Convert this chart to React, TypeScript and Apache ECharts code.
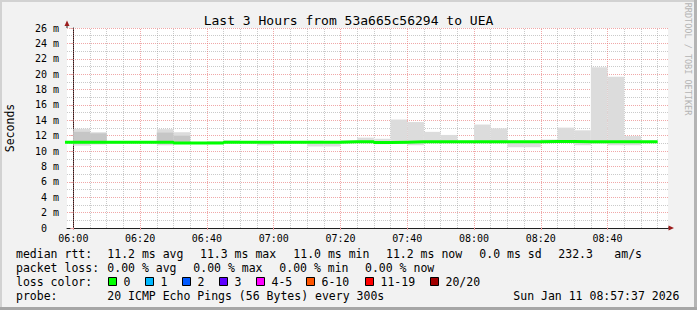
import React, { useEffect, useRef } from "react";
import * as echarts from "echarts";

// ---- data ----
const binTimes = [
  "05:55", "06:00", "06:05", "06:10", "06:15", "06:20", "06:25", "06:30", "06:35",
  "06:40", "06:45", "06:50", "06:55", "07:00", "07:05", "07:10", "07:15", "07:20",
  "07:25", "07:30", "07:35", "07:40", "07:45", "07:50", "07:55", "08:00", "08:05",
  "08:10", "08:15", "08:20", "08:25", "08:30", "08:35", "08:40", "08:45", "08:50",
];
// smoke (min..max of the 20 pings), ms
const smokeMin = [
  11.1, 10.7, 10.85, 10.95, 11.05, 11.05, 10.75, 11.0, 10.95,
  11.0, 11.05, 11.05, 10.75, 11.05, 11.05, 10.6, 10.6, 11.05,
  11.05, 10.9, 10.95, 10.76, 11.1, 11.1, 11.1, 11.1, 11.05,
  10.5, 10.5, 11.1, 11.05, 10.76, 10.98, 10.76, 10.76, 11.15,
];
const smokeMax = [
  11.3, 12.9, 12.45, 11.3, 11.25, 11.25, 12.85, 12.45, 11.1,
  11.3, 11.4, 11.3, 11.2, 11.25, 11.25, 11.35, 11.25, 11.4,
  11.75, 11.6, 14.1, 13.77, 12.5, 12.1, 11.35, 13.45, 12.95,
  11.3, 11.25, 11.5, 13.05, 12.7, 20.9, 19.65, 11.95, 11.25,
];
// denser inner smoke
const innerLo = [
  null, 11.0, 11.0, null, null, null, 11.0, 11.0, null,
  null, null, null, null, null, null, null, null, null,
  null, null, 10.93, null, null, null, null, null, null,
  null, null, null, 11.1, null, null, null, null, null,
];
const innerHi = [
  null, 12.5, 12.3, null, null, null, 12.4, 12.0, null,
  null, null, null, null, null, null, null, null, null,
  null, null, 11.0, null, null, null, null, null, null,
  null, null, null, 11.4, null, null, null, null, null,
];
const medianRtt = [
  11.15, 11.15, 11.15, 11.15, 11.15, 11.15, 11.15, 11.05, 11.05,
  11.05, 11.15, 11.15, 11.15, 11.15, 11.15, 11.15, 11.15, 11.2,
  11.2, 11.1, 11.15, 11.2, 11.2, 11.2, 11.2, 11.2, 11.2,
  11.2, 11.2, 11.25, 11.25, 11.2, 11.2, 11.2, 11.2, 11.2,
];
const xTickLabels = ["06:00", "06:20", "06:40", "07:00", "07:20", "07:40", "08:00", "08:20", "08:40"];
const xGridTimes = [
  "06:00", "06:05", "06:10", "06:15", "06:20", "06:25", "06:30", "06:35", "06:40", "06:45",
  "06:50", "06:55", "07:00", "07:05", "07:10", "07:15", "07:20", "07:25", "07:30", "07:35",
  "07:40", "07:45", "07:50", "07:55", "08:00", "08:05", "08:10", "08:15", "08:20", "08:25",
  "08:30", "08:35", "08:40", "08:45", "08:50", "08:55",
];

const titleText = "Last 3 Hours from 53a665c56294 to UEA";
const rttStats = ["11.2 ms avg", "11.3 ms max", "11.0 ms min", "11.2 ms now", "0.0 ms sd", "232.3", "am/s"];
const lossStats = ["0.00 % avg", "0.00 % max", "0.00 % min", "0.00 % now"];
const lossLabels = ["0", "1", "2", "3", "4-5", "6-10", "11-19", "20/20"];
const lossColors = ["#00ff00", "#00b8ff", "#0059ff", "#5e00ff", "#ff00ff", "#ff5500", "#ff0000", "#a10000"];
const probeText = "20 ICMP Echo Pings (56 Bytes) every 300s";
const dateText = "Sun Jan 11 08:57:37 2026";
const binMinutes = 5;

// ---- layout ----
const FONT = "DejaVu Sans Mono";
const rttX = [107.3, 200, 293.3, 386, 479.3, 558.3, 614.3];
const lossX = [107.3, 193.3, 279.3, 365];
const boxX = [108.5, 145.5, 182.5, 219.5, 256.5, 306.5, 365.5, 430.5];
const lineY = [254, 268, 282, 296];

const toMin = (t: string) => {
  const [h, m] = t.split(":").map(Number);
  return (h - 6) * 60 + m;
};
const fmtMin = (v: number) => {
  const tot = Math.round(v) + 360;
  const h = Math.floor(tot / 60);
  const m = tot % 60;
  return String(h).padStart(2, "0") + ":" + String(m).padStart(2, "0");
};

export default function App() {
  const ref = useRef<HTMLDivElement>(null);
  useEffect(() => {
    if (!ref.current) return;
    const chart = echarts.init(ref.current, null, { renderer: "svg" });

    const starts = binTimes.map(toMin);
    const outerData = starts.map((s, i) => [s, s + binMinutes, smokeMin[i], smokeMax[i]]);
    const innerData = starts
      .map((s, i) => (innerLo[i] == null ? null : [s, s + binMinutes, innerLo[i], innerHi[i]]))
      .filter((d) => d != null);
    const medData = starts.map((s, i) => [s, medianRtt[i]]);
    medData.push([starts[starts.length - 1] + binMinutes, medianRtt[medianRtt.length - 1]]);

    const rectItem = (fill: string) => (params: any, api: any) => {
      const s = api.value(0), e = api.value(1), lo = api.value(2), hi = api.value(3);
      const p1 = api.coord([s, hi]);
      const p2 = api.coord([e, lo]);
      const cs = params.coordSys;
      const x1 = Math.max(p1[0], cs.x);
      const x2 = Math.min(p2[0], cs.x + cs.width);
      return {
        type: "rect",
        shape: { x: x1, y: p1[1], width: Math.max(0, x2 - x1), height: p2[1] - p1[1] },
        style: { fill },
      };
    };

    const xTickVals = xTickLabels.map(toMin);
    const vLines = xGridTimes.map((t) => {
      const v = toMin(t);
      const major = v % 20 === 0;
      return {
        xAxis: v,
        lineStyle: {
          color: major ? "rgba(230,110,110,0.6)" : "rgba(150,150,150,0.5)",
          type: [1, 1],
          width: 1,
        },
      };
    });

    const graphics: any[] = [];
    // frame shading
    graphics.push({ type: "rect", shape: { x: 0, y: 0, width: 697, height: 2 }, style: { fill: "#d2d2d2" }, silent: true });
    graphics.push({ type: "rect", shape: { x: 0, y: 0, width: 2, height: 310 }, style: { fill: "#d2d2d2" }, silent: true });
    graphics.push({ type: "rect", shape: { x: 694, y: 0, width: 3, height: 310 }, style: { fill: "#b4b4b4" }, silent: true });
    graphics.push({ type: "rect", shape: { x: 0, y: 307, width: 697, height: 3 }, style: { fill: "#a6a6a6" }, silent: true });
    // arrows
    graphics.push({ type: "line", shape: { x1: 67, y1: 28, x2: 67, y2: 24 }, style: { stroke: "#202020", lineWidth: 1 }, silent: true });
    graphics.push({ type: "polygon", shape: { points: [[64.5, 26], [69.5, 26], [67, 20.5]] }, style: { fill: "#9b1c1c" }, silent: true });
    graphics.push({ type: "line", shape: { x1: 668, y1: 228, x2: 670, y2: 228 }, style: { stroke: "#202020", lineWidth: 1 }, silent: true });
    graphics.push({ type: "polygon", shape: { points: [[668.5, 225.5], [668.5, 230.5], [674, 228]] }, style: { fill: "#9b1c1c" }, silent: true });
    // watermark
    graphics.push({
      type: "text", x: 688, y: 59, rotation: -Math.PI / 2, silent: true,
      style: { text: "RRDTOOL / TOBI OETIKER", fill: "#b4b4b4", font: `8.5px "${FONT}"`, align: "center", verticalAlign: "middle" },
    });
    // legend
    const txt = (text: string, x: number, y: number) => ({
      type: "text", x, y, silent: true,
      style: { text, fill: "#000", font: `11.5px "${FONT}"`, align: "left", verticalAlign: "middle" },
    });
    graphics.push(txt("median rtt:", 16, lineY[0]));
    rttStats.forEach((s, i) => graphics.push(txt(s, rttX[i], lineY[0])));
    graphics.push(txt("packet loss:", 16, lineY[1]));
    lossStats.forEach((s, i) => graphics.push(txt(s, lossX[i], lineY[1])));
    graphics.push(txt("loss color:", 16, lineY[2]));
    lossLabels.forEach((s, i) => {
      graphics.push({
        type: "rect", silent: true,
        shape: { x: boxX[i], y: lineY[2] - 4.5, width: 8, height: 8 },
        style: { fill: lossColors[i], stroke: "#000", lineWidth: 1 },
      });
      graphics.push(txt(s, boxX[i] + 15, lineY[2]));
    });
    graphics.push(txt("probe:", 16, lineY[3]));
    graphics.push(txt(probeText, 107.3, lineY[3]));
    graphics.push(txt(dateText, 513.3, lineY[3]));

    chart.setOption({
      animation: false,
      backgroundColor: "#f2f2f2",
      title: {
        text: titleText,
        left: "center",
        top: 9,
        textStyle: { fontFamily: FONT, fontSize: 13, fontWeight: "normal", color: "#000" },
      },
      grid: {
        left: 67, top: 28, width: 601, height: 200,
        show: true, backgroundColor: "#ffffff", borderWidth: 0,
        containLabel: false, outerBoundsMode: "none",
      },
      xAxis: {
        type: "value",
        min: -1.9,
        max: 178.1,
        axisLine: { show: true, onZero: false, lineStyle: { color: "#202020", width: 1 } },
        axisTick: { show: true, customValues: xTickVals, length: 2, lineStyle: { color: "#e8a0a0" } },
        axisLabel: {
          customValues: xTickVals,
          formatter: (v: number) => fmtMin(v),
          fontFamily: FONT, fontSize: 10, color: "#000", margin: 5,
        },
        splitLine: { show: false },
      },
      yAxis: {
        type: "value",
        min: 0,
        max: 26,
        interval: 2,
        name: "Seconds",
        nameLocation: "middle",
        nameRotate: 90,
        nameGap: 51,
        nameTextStyle: { fontFamily: FONT, fontSize: 11.5, color: "#000" },
        axisLine: { show: true, lineStyle: { color: "#202020", width: 1 } },
        axisTick: { show: true, length: 3, lineStyle: { color: "#e8a0a0" } },
        axisLabel: {
          margin: 8,
          formatter: (v: number) => (v === 0 ? "{z|0}" : "{a|" + v + " m}"),
          rich: {
            a: { fontFamily: FONT, fontSize: 10, color: "#000" },
            z: { fontFamily: FONT, fontSize: 10, color: "#000", padding: [0, 12, 0, 0] },
          },
        },
        splitLine: { show: true, lineStyle: { color: "rgba(230,110,110,0.6)", type: [1, 1], width: 1 } },
        minorTick: { show: false, splitNumber: 2 },
        minorSplitLine: { show: true, lineStyle: { color: "rgba(150,150,150,0.5)", type: [1, 1], width: 1 } },
      },
      series: [
        {
          type: "custom",
          name: "smoke",
          renderItem: rectItem("#dcdcdc"),
          encode: { x: [0, 1], y: [2, 3] },
          data: outerData,
          z: 2,
          silent: true,
          markLine: { silent: true, symbol: "none", z: 1, label: { show: false }, data: vLines },
        },
        {
          type: "custom",
          name: "smoke-inner",
          renderItem: rectItem("#c6c6c6"),
          encode: { x: [0, 1], y: [2, 3] },
          data: innerData,
          z: 3,
          silent: true,
        },
        {
          type: "line",
          name: "median rtt",
          data: medData,
          step: "end",
          showSymbol: false,
          symbol: "none",
          lineStyle: { color: "#00ff00", width: 3 },
          z: 4,
          silent: true,
        },
      ],
      graphic: graphics,
    });
    return () => chart.dispose();
  }, []);
  return <div ref={ref} style={{ position: "absolute", left: 0, top: 0, width: 697, height: 310 }} />;
}
